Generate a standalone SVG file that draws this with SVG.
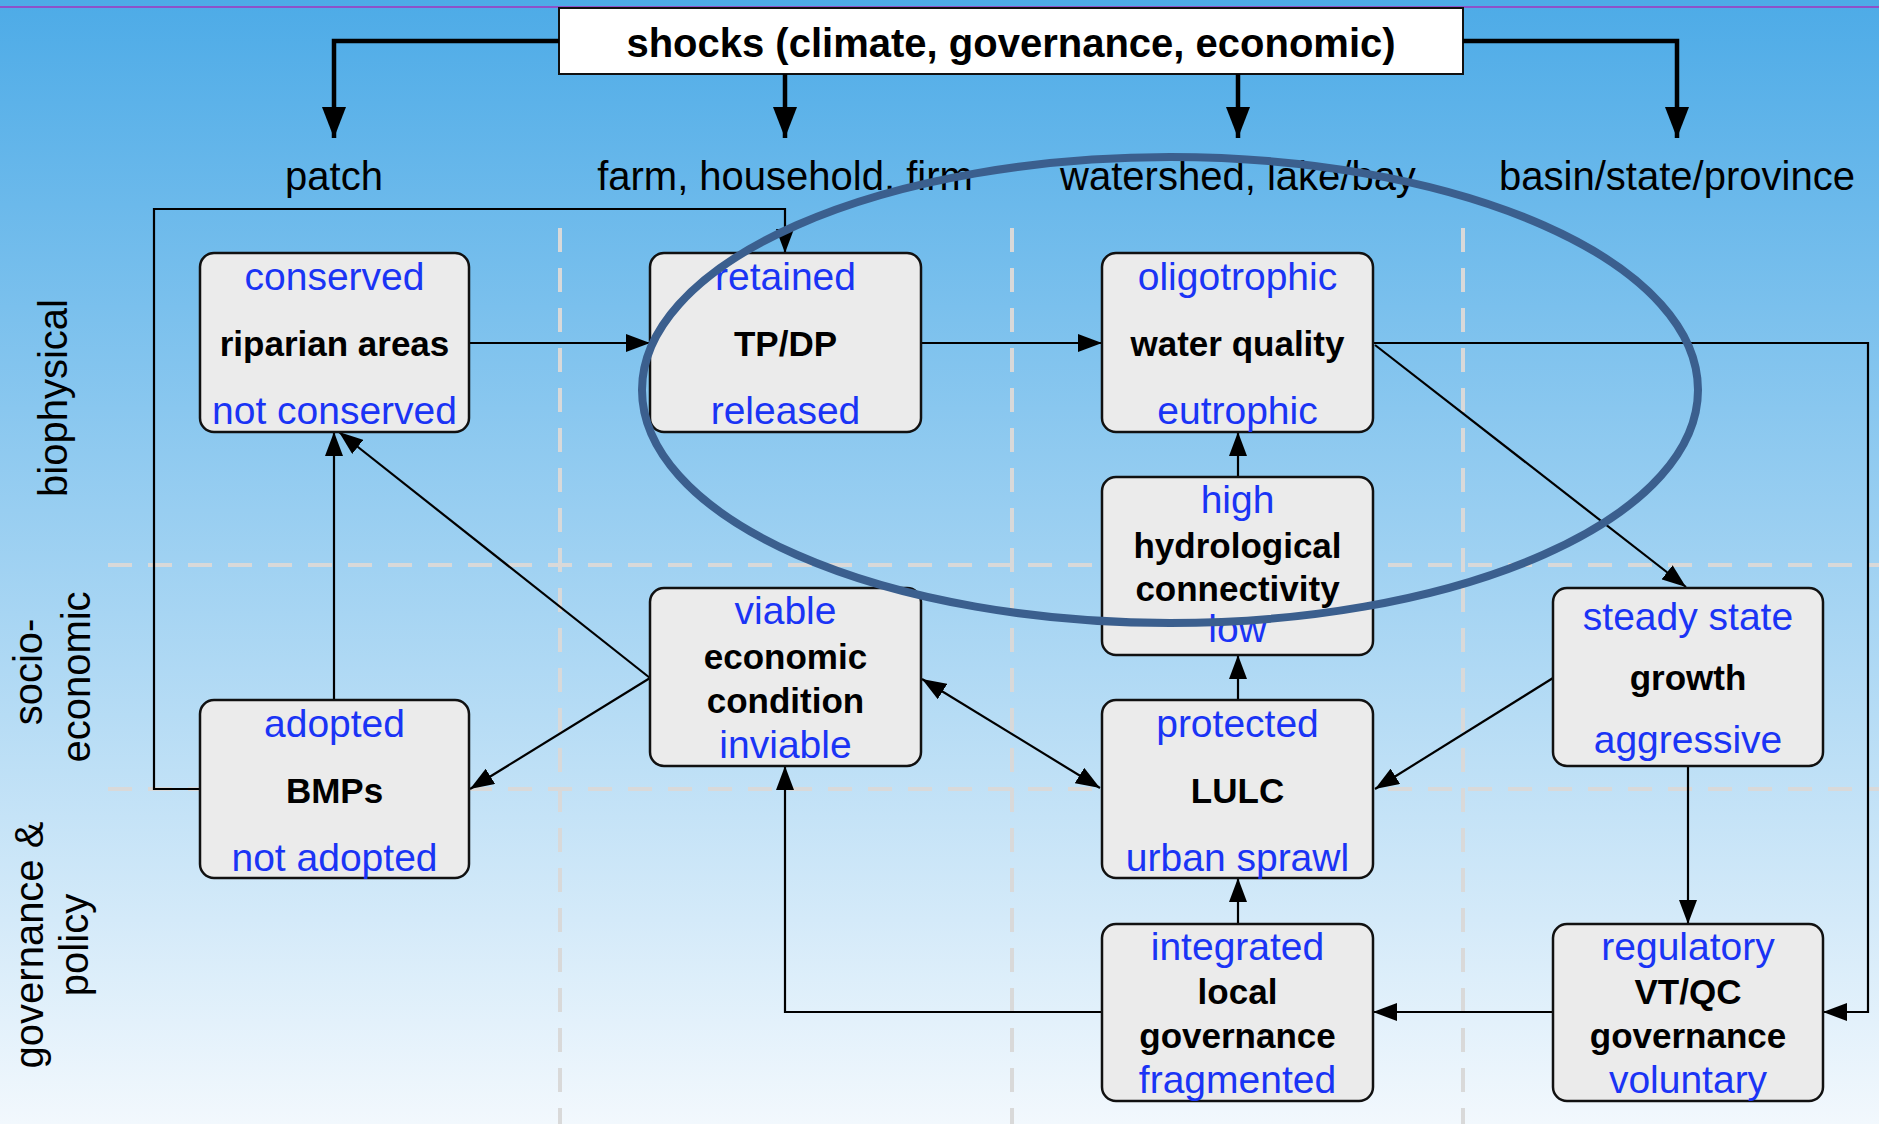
<svg xmlns="http://www.w3.org/2000/svg" width="1879" height="1124" viewBox="0 0 1879 1124">
<defs>
<linearGradient id="bg" x1="0" y1="0" x2="0" y2="1">
<stop offset="0" stop-color="#4DABE7"/>
<stop offset="1" stop-color="#F2F8FD"/>
</linearGradient>
<marker id="ah" viewBox="0 0 24 18" refX="24" refY="9" markerWidth="24" markerHeight="18" markerUnits="userSpaceOnUse" orient="auto-start-reverse">
<path d="M0,0 L24,9 L0,18 z" fill="#000"/>
</marker>
<marker id="big" viewBox="0 0 31 24" refX="31" refY="12" markerWidth="31" markerHeight="24" markerUnits="userSpaceOnUse" orient="auto">
<path d="M0,0 L31,12 L0,24 z" fill="#000"/>
</marker>
<style>
.box{fill:#EBEBEB;stroke:#111;stroke-width:2.5}
.b{font-family:"Liberation Sans",Arial,sans-serif;font-weight:bold;font-size:35px;fill:#000;text-anchor:middle}
.u{font-family:"Liberation Sans",Arial,sans-serif;font-size:39px;fill:#1A34F5;text-anchor:middle}
.lab{font-family:"Liberation Sans",Arial,sans-serif;font-size:40px;fill:#000;text-anchor:middle}
.grid{stroke:#D9D9D9;stroke-width:4;stroke-dasharray:24 16;fill:none}
.thin{fill:none;stroke:#000;stroke-width:2.2}
.thick{fill:none;stroke:#000;stroke-width:4.5}
</style>
</defs>
<rect x="0" y="0" width="1879" height="1124" fill="url(#bg)"/>
<line x1="0" y1="7" x2="1879" y2="7" stroke="#8D52C9" stroke-width="2"/>

<g id="grid">
<line class="grid" x1="560" y1="228" x2="560" y2="1124"/>
<line class="grid" x1="1012" y1="228" x2="1012" y2="1124"/>
<line class="grid" x1="1463" y1="228" x2="1463" y2="1124"/>
<line class="grid" x1="108" y1="565" x2="1879" y2="565"/>
<line class="grid" x1="108" y1="789" x2="1879" y2="789"/>
</g>

<g id="shocks">
<rect x="559" y="8" width="904" height="66" fill="#fff" stroke="#111" stroke-width="2"/>
<text class="b" x="1011" y="57" style="font-size:40px">shocks (climate, governance, economic)</text>
</g>

<g id="scale-labels">
<text class="lab" x="334" y="190">patch</text>
<text class="lab" x="785" y="190">farm, household, firm</text>
<text class="lab" x="1238" y="190">watershed, lake/bay</text>
<text class="lab" x="1677" y="190">basin/state/province</text>
</g>

<g id="axis-labels">
<text class="lab" transform="translate(67,398) rotate(-90)">biophysical</text>
<text class="lab" transform="translate(42,672) rotate(-90)">socio-</text>
<text class="lab" transform="translate(90,677) rotate(-90)">economic</text>
<text class="lab" transform="translate(43,945) rotate(-90)">governance &amp;</text>
<text class="lab" transform="translate(88,945) rotate(-90)">policy</text>
</g>

<g id="connectors">
<path class="thick" d="M559,41 H334 V138" marker-end="url(#big)"/>
<path class="thick" d="M785,74 V138" marker-end="url(#big)"/>
<path class="thick" d="M1238,74 V138" marker-end="url(#big)"/>
<path class="thick" d="M1463,41 H1677 V138" marker-end="url(#big)"/>
<path class="thin" d="M469,343 H650" marker-end="url(#ah)"/>
<path class="thin" d="M921,343 H1102" marker-end="url(#ah)"/>
<path class="thin" d="M1373,343 H1868 V1012 H1823" marker-end="url(#ah)"/>
<path class="thin" d="M1375,345 L1686,587" marker-end="url(#ah)"/>
<path class="thin" d="M1238,477 V432" marker-end="url(#ah)"/>
<path class="thin" d="M1238,700 V655" marker-end="url(#ah)"/>
<path class="thin" d="M1238,924 V878" marker-end="url(#ah)"/>
<path class="thin" d="M1553,1012 H1373" marker-end="url(#ah)"/>
<path class="thin" d="M1688,766 V924" marker-end="url(#ah)"/>
<path class="thin" d="M1553,678 L1375,789" marker-end="url(#ah)"/>
<path class="thin" d="M922,679 L1100,788" marker-start="url(#ah)" marker-end="url(#ah)"/>
<path class="thin" d="M650,678 L470,789" marker-end="url(#ah)"/>
<path class="thin" d="M650,678 L339,432" marker-end="url(#ah)"/>
<path class="thin" d="M334,700 V432" marker-end="url(#ah)"/>
<path class="thin" d="M200,789 H154 V209 H785 V253" marker-end="url(#ah)"/>
<path class="thin" d="M1102,1012 H785 V766" marker-end="url(#ah)"/>
</g>

<g id="riparian">
<rect class="box" x="200" y="253" width="269" height="179" rx="14"/>
<text class="u" x="334.5" y="290">conserved</text>
<text class="b" x="334.5" y="356">riparian areas</text>
<text class="u" x="334.5" y="424">not conserved</text>
</g>
<g id="tpdp">
<rect class="box" x="650" y="253" width="271" height="179" rx="14"/>
<text class="u" x="785.5" y="290">retained</text>
<text class="b" x="785.5" y="356">TP/DP</text>
<text class="u" x="785.5" y="424">released</text>
</g>
<g id="waterquality">
<rect class="box" x="1102" y="253" width="271" height="179" rx="14"/>
<text class="u" x="1237.5" y="290">oligotrophic</text>
<text class="b" x="1237.5" y="356">water quality</text>
<text class="u" x="1237.5" y="424">eutrophic</text>
</g>
<g id="hydro">
<rect class="box" x="1102" y="477" width="271" height="178" rx="14"/>
<text class="u" x="1237.5" y="513">high</text>
<text class="b" x="1237.5" y="558">hydrological</text>
<text class="b" x="1237.5" y="601">connectivity</text>
<text class="u" x="1237.5" y="642">low</text>
</g>
<g id="economic">
<rect class="box" x="650" y="588" width="271" height="178" rx="14"/>
<text class="u" x="785.5" y="624">viable</text>
<text class="b" x="785.5" y="669">economic</text>
<text class="b" x="785.5" y="713">condition</text>
<text class="u" x="785.5" y="758">inviable</text>
</g>
<g id="growth">
<rect class="box" x="1553" y="588" width="270" height="178" rx="14"/>
<text class="u" x="1688" y="630">steady state</text>
<text class="b" x="1688" y="690">growth</text>
<text class="u" x="1688" y="753">aggressive</text>
</g>
<g id="bmps">
<rect class="box" x="200" y="700" width="269" height="178" rx="14"/>
<text class="u" x="334.5" y="737">adopted</text>
<text class="b" x="334.5" y="803">BMPs</text>
<text class="u" x="334.5" y="871">not adopted</text>
</g>
<g id="lulc">
<rect class="box" x="1102" y="700" width="271" height="178" rx="14"/>
<text class="u" x="1237.5" y="737">protected</text>
<text class="b" x="1237.5" y="803">LULC</text>
<text class="u" x="1237.5" y="871">urban sprawl</text>
</g>
<g id="localgov">
<rect class="box" x="1102" y="924" width="271" height="177" rx="14"/>
<text class="u" x="1237.5" y="960">integrated</text>
<text class="b" x="1237.5" y="1004">local</text>
<text class="b" x="1237.5" y="1048">governance</text>
<text class="u" x="1237.5" y="1093">fragmented</text>
</g>
<g id="vtqc">
<rect class="box" x="1553" y="924" width="270" height="177" rx="14"/>
<text class="u" x="1688" y="960">regulatory</text>
<text class="b" x="1688" y="1004">VT/QC</text>
<text class="b" x="1688" y="1048">governance</text>
<text class="u" x="1688" y="1093">voluntary</text>
</g>

<g id="highlight">
<ellipse cx="1170" cy="390" rx="528" ry="233" fill="none" stroke="#3B5F8E" stroke-width="8"/>
</g>
</svg>
